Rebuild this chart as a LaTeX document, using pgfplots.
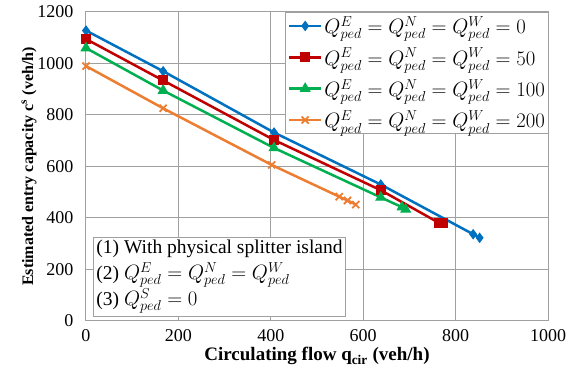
\documentclass[border=0pt]{standalone}
\usepackage{fontspec}
\setmainfont{Liberation Serif}
\usepackage{pgfplots}
\pgfplotsset{compat=1.18}

\definecolor{cblue}{RGB}{0,112,192}
\definecolor{cred}{RGB}{192,0,0}
\definecolor{cgreen}{RGB}{0,176,80}
\definecolor{corange}{RGB}{237,125,49}
\definecolor{cgrid}{RGB}{160,160,160}

\begin{document}
\begin{tikzpicture}
\begin{axis}[
  scale only axis,
  width=462pt, height=309pt,
  xmin=0, xmax=1000, ymin=0, ymax=1200,
  xtick={0,200,...,1000}, ytick={0,200,...,1200},
  grid=major,
  major grid style={cgrid, line width=1pt},
  axis line style={cgrid, line width=1pt},
  tick style={draw=none},
  tick label style={font=\fontsize{18}{20}\selectfont,
    /pgf/number format/assume math mode=true,
    /pgf/number format/1000 sep={}},
  xticklabel style={yshift=-5pt},
  yticklabel style={xshift=-9pt},
  xlabel={\textbf{Circulating flow q\textsubscript{cir} (veh/h)}},
  ylabel={\textbf{Estimated entry capacity c\textsuperscript{s} (veh/h)}},
  xlabel style={font=\fontsize{19}{20}\selectfont, yshift=1pt},
  ylabel style={font=\fontsize{16}{18}\selectfont, yshift=-6pt},
  legend cell align=left,
  legend style={at={(1.003,1)}, anchor=north east, draw=cgrid, line width=1pt,
    font=\fontsize{20}{22}\selectfont, row sep=8.5pt, inner sep=2pt},
  legend image code/.code={
    \draw[#1, mark repeat=2, mark phase=2]
      plot coordinates {(0pt,0pt) (16pt,0pt) (32pt,0pt)};
  },
  every axis plot/.append style={line width=2.5pt},
]
\addplot[cblue, mark=diamond*, mark size=4.5pt, mark options={line width=1pt}] coordinates {
  (0,1128) (167,970) (407,732) (638,530) (838,337) (852,323)
};
\addlegendentry{$Q^{E}_{ped}=Q^{N}_{ped}=Q^{W}_{ped}=0$}
\addplot[cred, mark=square*, mark size=4.5pt, mark options={line width=1pt}] coordinates {
  (0,1095) (167,934) (407,703) (638,508) (763,382) (773,379)
};
\addlegendentry{$Q^{E}_{ped}=Q^{N}_{ped}=Q^{W}_{ped}=50$}
\addplot[cgreen, mark=triangle*, mark size=5.5pt, mark options={line width=1pt}] coordinates {
  (0,1060) (167,895) (407,672) (638,480) (684,442) (692,433)
};
\addlegendentry{$Q^{E}_{ped}=Q^{N}_{ped}=Q^{W}_{ped}=100$}
\addplot[corange, mark=x, mark size=5pt, mark options={line width=1.8pt}] coordinates {
  (0,990) (167,826) (402,606) (548,483) (566,468) (584,452)
};
\addlegendentry{$Q^{E}_{ped}=Q^{N}_{ped}=Q^{W}_{ped}=200$}

\node[draw=cgrid, line width=1pt, fill=white, anchor=south west, align=left,
      inner sep=3pt, font=\fontsize{19.5}{26}\selectfont]
  at (rel axis cs:0.015,0.012)
  {(1) With physical splitter island\\
   (2) $Q^{E}_{ped}=Q^{N}_{ped}=Q^{W}_{ped}$\\
   (3) $Q^{S}_{ped}=0$};
\end{axis}
\path (current axis.south west) ++(-86pt,-53pt) coordinate (bbA);
\path (current axis.north east) ++(28pt,12pt) coordinate (bbB);
\useasboundingbox (bbA) rectangle (bbB);
\end{tikzpicture}
\end{document}
